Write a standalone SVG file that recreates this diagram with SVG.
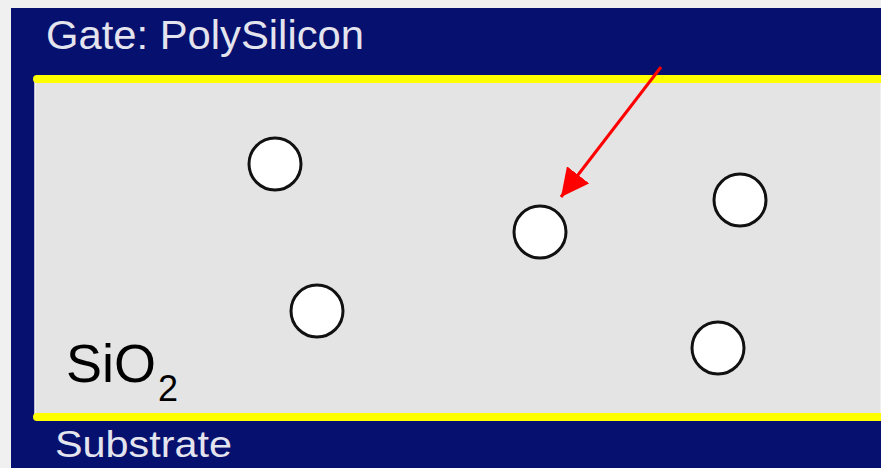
<svg xmlns="http://www.w3.org/2000/svg" width="881" height="468" viewBox="0 0 881 468">
  <style>
    .label { font-family: "Liberation Sans", Arial, sans-serif; fill: #e4e4ee; }
    .trap { fill: #ffffff; stroke: #111111; stroke-width: 3; }
    .interface { stroke: #ffff00; stroke-width: 8; stroke-linecap: round; }
  </style>
  <defs>
    <marker id="arrowhead" viewBox="0 0 28 28" refX="28" refY="14" markerWidth="28" markerHeight="28" markerUnits="userSpaceOnUse" orient="auto">
      <path d="M0,0 L28,14 L0,28 z" fill="#ff0000"/>
    </marker>
  </defs>

  <!-- page background -->
  <rect x="0" y="0" width="881" height="468" fill="#f0f0f0"/>

  <!-- gate / substrate layers -->
  <g id="layers">
    <rect x="11" y="8" width="870" height="460" fill="#06106e"/>
    <rect x="35" y="79" width="846" height="338" fill="#e4e4e4" stroke="#f4f4f4" stroke-width="1.5"/>
    <line class="interface" x1="37" y1="79" x2="885" y2="79"/>
    <line class="interface" x1="37" y1="417" x2="885" y2="417"/>
  </g>

  <g id="gate-label">
    <text class="label" x="46" y="49" font-size="40" textLength="318" lengthAdjust="spacingAndGlyphs">Gate: PolySilicon</text>
  </g>
  <g id="substrate-label">
    <text class="label" x="55" y="457" font-size="37" textLength="177" lengthAdjust="spacingAndGlyphs">Substrate</text>
  </g>
  <g id="oxide-label">
    <text x="66" y="382" font-family="'Liberation Sans', Arial, sans-serif" font-size="54" fill="#000000">SiO<tspan font-size="36" dx="2" dy="19">2</tspan></text>
  </g>

  <!-- oxide traps -->
  <g id="trap-1"><circle class="trap" cx="275" cy="164" r="26"/></g>
  <g id="trap-2"><circle class="trap" cx="540" cy="232" r="26"/></g>
  <g id="trap-3"><circle class="trap" cx="740" cy="200" r="26"/></g>
  <g id="trap-4"><circle class="trap" cx="317" cy="311" r="26"/></g>
  <g id="trap-5"><circle class="trap" cx="718" cy="348" r="26"/></g>

  <g id="connectors">
    <line x1="661" y1="67" x2="561" y2="197" stroke="#ff0000" stroke-width="3" marker-end="url(#arrowhead)"/>
  </g>
</svg>
